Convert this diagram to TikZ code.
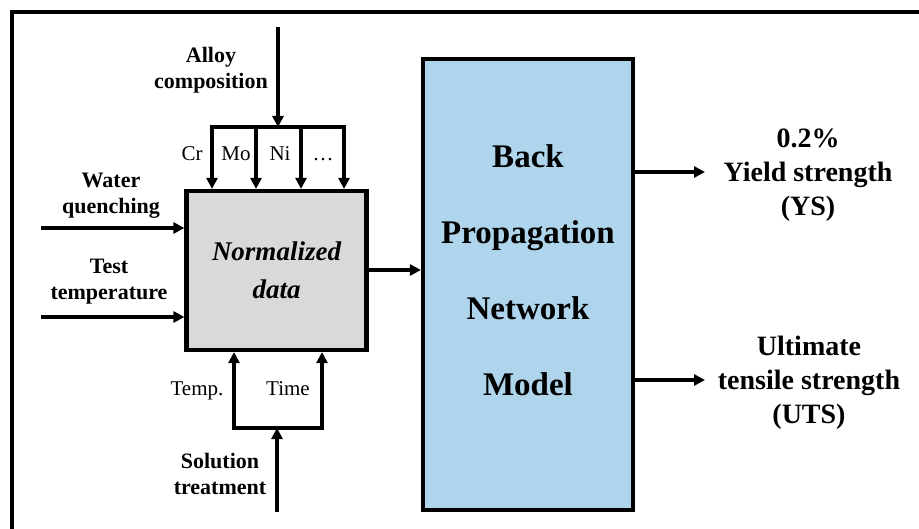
\documentclass[tikz,border=0pt]{standalone}
\usepackage{fontspec}
\setmainfont{Liberation Serif}
\usetikzlibrary{arrows.meta}
\definecolor{procgray}{RGB}{217,217,217}
\definecolor{netblue}{RGB}{174,213,235}
\tikzset{
  conn/.style={line width=3.3pt,-{Triangle[length=11pt,width=11pt]}},
  bus/.style={line width=3.3pt},
  blockbox/.style={draw,line width=4.2pt,inner sep=0pt},
  lbl/.style={font=\fontsize{22}{26}\selectfont\bfseries,align=center,inner sep=0pt},
  small/.style={font=\fontsize{21}{22}\selectfont,inner sep=0pt,anchor=base},
  outlbl/.style={font=\fontsize{28}{34}\selectfont\bfseries,align=center,inner sep=0pt},
}
\begin{document}
\begin{tikzpicture}[x=1pt,y=-1pt]
\useasboundingbox (0,0) rectangle (919,529);
\fill[white] (0,0) rectangle (919,529);
% outer frame (only top and left edges fall inside the page)
\draw[line width=3.3pt,line cap=rect] (12,529) -- (12,12) -- (919,12);

% main blocks
\node[blockbox,fill=procgray,minimum width=180pt,minimum height=159pt] (norm) at (276.5,270.5) {};
\node[font=\fontsize{27}{38}\selectfont\bfseries\itshape,align=center] at (norm.center) {Normalized\\data};
\node[blockbox,fill=netblue,minimum width=210pt,minimum height=451pt] (bpn) at (528,284.5) {};
\node[font=\fontsize{33}{76}\selectfont\bfseries,align=center] at (528,270) {Back\\Propagation\\Network\\Model};

% alloy composition input and element bus
\coordinate (alloyin) at (278,27);
\coordinate (busL) at (212,127);
\coordinate (busR) at (344,127);
\coordinate (cr) at (212,127);
\coordinate (mo) at (256,127);
\coordinate (ni) at (301,127);
\coordinate (etc) at (344,127);
\node[lbl] (alloy) at (211,70) {Alloy\\composition};
\draw[conn] (alloyin) -- (alloyin |- busL);
\draw[bus,line cap=rect] (busL) -- (busR);
\foreach \c in {cr,mo,ni,etc}
  \draw[conn] (\c) -- (\c |- norm.north);
\node[small] at (192,161) {Cr};
\node[small] at (236,161) {Mo};
\node[small] at (280,161) {Ni};
\node[small] at (323,161) {\ldots};

% left inputs
\coordinate (wqin) at (41,228);
\coordinate (ttin) at (41,317);
\node[lbl] (wq) at (111,196) {Water\\quenching};
\node[lbl] (tt) at (109,282) {Test\\temperature};
\draw[conn] (wqin) -- (wqin -| norm.west);
\draw[conn] (ttin) -- (ttin -| norm.west);

% solution treatment input and its bus
\coordinate (solin) at (277,512);
\coordinate (solbus) at (277,428);
\coordinate (tempb) at (234,428);
\coordinate (timeb) at (322,428);
\node[lbl] (sol) at (220,474) {Solution\\treatment};
\draw[conn] (solin) -- (solbus);
\draw[bus,line cap=rect] (tempb) -- (timeb);
\draw[conn] (tempb) -- (tempb |- norm.south);
\draw[conn] (timeb) -- (timeb |- norm.south);
\node[small] at (197,396) {Temp.};
\node[small] at (288,396) {Time};

% block to network
\draw[conn] (norm.east |- 0,270) -- (bpn.west |- 0,270);

% outputs
\coordinate (ysout) at (705,172);
\coordinate (utsout) at (705,380);
\draw[conn] (bpn.east |- ysout) -- (ysout);
\draw[conn] (bpn.east |- utsout) -- (utsout);
\node[outlbl] (ys) at (808,175) {0.2\%\\Yield strength\\(YS)};
\node[outlbl] (uts) at (809,383) {Ultimate\\tensile strength\\(UTS)};
\end{tikzpicture}
\end{document}
